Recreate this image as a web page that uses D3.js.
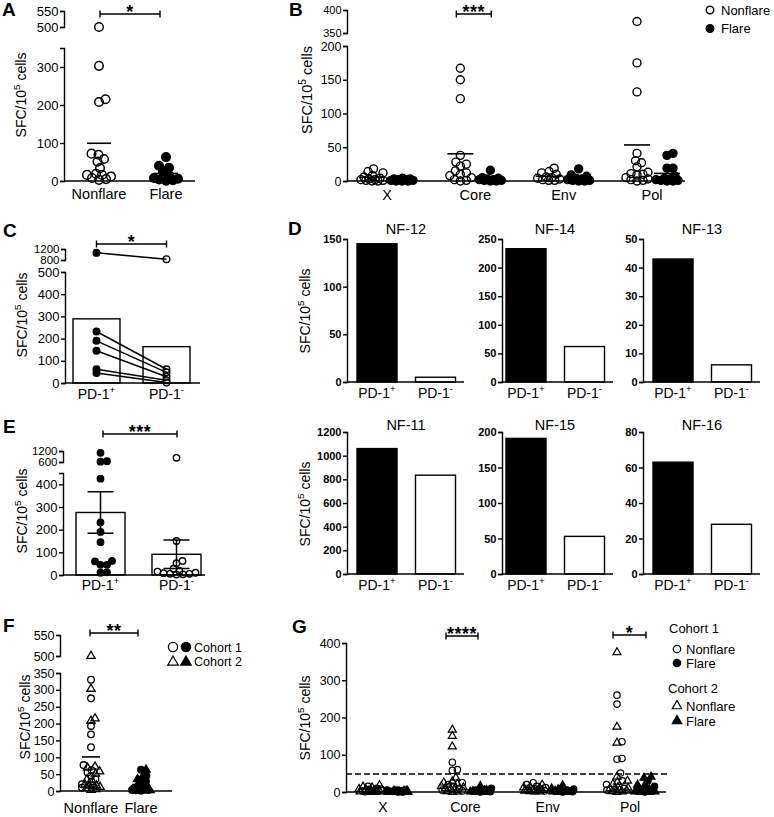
<!DOCTYPE html>
<html><head><meta charset="utf-8">
<script src="https://cdn.jsdelivr.net/npm/d3@7"></script>
<style>body{margin:0;background:#fff}</style>
</head><body>
<script>
// ================= DATA =================
// Panel A – SFC per group
const aCategories = ["Nonflare", "Flare"];
const aNonflare = [500, 303, 215, 208, 72, 69, 58, 51, 34, 19, 16, 16, 12, 8, 5, 3];
const aFlare = [63, 40, 35, 25, 15, 8, 6, 4, 2, 1];
const aTicksLow = [0, 100, 200, 300];
const aTicksHigh = [500, 550];

// Panel B – per antigen (X, Core, Env, Pol)
const bCategories = ["X", "Core", "Env", "Pol"];
const bNonflare = [
  [18, 14, 12, 8, 6, 4, 3, 2, 2, 1, 1, 0, 0],
  [167, 150, 122, 38, 28, 25, 22, 15, 12, 10, 8, 5, 2, 1, 0],
  [19, 14, 12, 10, 6, 5, 4, 3, 2, 1, 1],
  [375, 175, 132, 41, 30, 27, 21, 13, 11, 10, 9, 5, 3, 2, 1, 0]
];
const bFlare = [
  [4, 3, 3, 2, 2, 1, 1, 0, 0, 0],
  [16, 5, 4, 3, 2, 2, 1, 1, 0, 0],
  [18, 9, 7, 4, 3, 2, 1, 1, 0, 0],
  [41, 38, 19, 19, 7, 4, 3, 2, 1, 1, 0, 0]
];
const bTicksLow = [0, 50, 100, 150, 200];
const bTicksHigh = [350, 400];

// Panel C – paired PD-1+ / PD-1-
const pdCategories = ["PD-1+", "PD-1-"];
const cPD1pos = [1060, 232, 190, 145, 62, 45];
const cPD1neg = [830, 62, 48, 28, 12, 2];
const cTicksLow = [0, 100, 200, 300, 400, 500];
const cTicksHigh = [800, 1200];

// Panel D – individual patients
const dPatients = ["NF-12", "NF-14", "NF-13", "NF-11", "NF-15", "NF-16"];
const dPD1pos = [145, 233, 43, 1060, 191, 63];
const dPD1neg = [5, 62, 6, 835, 53, 28];
const dTicks = [
  [0, 50, 100, 150], [0, 50, 100, 150, 200, 250], [0, 10, 20, 30, 40, 50],
  [0, 200, 400, 600, 800, 1000, 1200], [0, 50, 100, 150, 200], [0, 20, 40, 60, 80]
];

// Panel E
const ePD1pos = [1100, 640, 620, 425, 232, 190, 145, 62, 60, 45, 45, 12, 10];
const ePD1neg = [830, 150, 62, 52, 28, 18, 15, 10, 8, 5, 5, 3, 2];
const eTicksLow = [0, 100, 200, 300, 400];
const eTicksHigh = [600, 1200];

// Panel F – two cohorts
const fCategories = ["Nonflare", "Flare"];
const fCohort1Nonflare = [330, 275, 193, 168, 130, 77, 62, 55, 45, 35, 28, 20, 15, 10];
const fCohort2Nonflare = [500, 303, 215, 208, 72, 69, 58, 51, 34, 19, 16, 16, 12, 8, 5, 3];
const fCohort1Flare = [63, 45, 28, 12, 8, 5, 3, 2, 1];
const fCohort2Flare = [63, 40, 35, 25, 15, 8, 6, 4, 2, 1];
const fTicksLow = [0, 50, 100, 150, 200, 250, 300, 350];
const fTicksHigh = [500, 550];

// Panel G – two cohorts per antigen
const gCohort1Nonflare = [
  [15, 10, 8, 5, 3, 2, 1],
  [80, 60, 58, 25, 20, 15, 10, 5, 3],
  [25, 20, 15, 12, 8, 5, 3],
  [260, 236, 135, 90, 88, 51, 30, 20, 10, 5]
];
const gCohort1Flare = [
  [5, 3, 2, 1, 0, 0],
  [10, 5, 3, 2, 1, 0],
  [8, 5, 3, 1, 0],
  [30, 15, 8, 5, 2, 0]
];
const gCohort2Nonflare = bNonflare;
const gCohort2Flare = bFlare;
const gTicks = [0, 100, 200, 300, 400];
const gThreshold = 48;

// ================= HELPERS =================
const FONT = "'Liberation Sans', Arial, Helvetica, sans-serif";
const SW = 1.4;
const svg = d3.select("body").append("svg").attr("width", 774).attr("height", 817)
  .attr("font-family", FONT);
svg.append("rect").attr("width", 774).attr("height", 817).attr("fill", "#fff");

function brokenY(segs) {
  const sc = segs.map(s => d3.scaleLinear().domain(s.domain).range(s.range));
  const f = v => { let k = 0; segs.forEach((s, i) => { if (v >= s.domain[0]) k = i; }); return sc[k](v); };
  f.segs = sc;
  return f;
}
function yAxis(x, y, ticks, fs, fw) {
  y.segs.forEach((sc, i) => {
    const size = Array.isArray(fs) ? fs[i] : fs;
    const g = svg.append("g").attr("transform", `translate(${x},0)`)
      .call(d3.axisLeft(sc).tickValues(ticks[i]).tickFormat(d3.format("d"))
        .tickSize(4).tickSizeOuter(4).tickPadding(1.5));
    g.attr("font-family", FONT).attr("font-size", size).attr("font-weight", fw || "normal");
    g.selectAll("path,line").attr("stroke", "#000").attr("stroke-width", SW);
    g.selectAll("text").attr("fill", "#000");
  });
}
function hLine(x1, x2, y, w) {
  svg.append("line").attr("x1", x1).attr("x2", x2).attr("y1", y).attr("y2", y)
    .attr("stroke", "#000").attr("stroke-width", w || SW);
}
function txt(x, y, s, fs, anchor, fw) {
  return svg.append("text").attr("x", x).attr("y", y).attr("text-anchor", anchor || "middle")
    .attr("font-size", fs).attr("font-weight", fw || "normal").attr("fill", "#000").text(s);
}
function supLabel(x, y, base, sup, fs, rotate, tail) {
  const t = svg.append("text").attr("x", x).attr("y", y).attr("text-anchor", "middle")
    .attr("font-size", fs).attr("fill", "#000");
  if (rotate) t.attr("transform", `rotate(-90,${x},${y})`);
  t.append("tspan").text(base);
  t.append("tspan").text(sup).attr("font-size", fs * 0.7).attr("dy", -fs * 0.42);
  if (tail) t.append("tspan").text(tail).attr("dy", fs * 0.42);
  return t;
}
function yTitle(x, y, fs) { supLabel(x, y, "SFC/10", "5", fs, true, " cells"); }
function letter(s, x, y) { txt(x, y, s, 19, "start", "bold"); }
function sigBar(x1, x2, y, stars) {
  svg.append("path").attr("d", `M${x1},${y - 3.5}V${y + 3.5}M${x1},${y}H${x2}M${x2},${y - 3.5}V${y + 3.5}`)
    .attr("stroke", "#000").attr("stroke-width", SW).attr("fill", "none");
  txt((x1 + x2) / 2, y + 4, stars, 18, "middle", "bold").attr("letter-spacing", 0.5);
}
function meanLine(cx, y, hw) { hLine(cx - hw, cx + hw, y, 1.6); }
function swarm(items, yF, cx, r, maxHalf, overlap) {
  const minD = 2 * r * overlap;
  const pts = items.map(d => Object.assign({}, d, { y: yF(d.v) })).sort((a, b) => b.y - a.y);
  const placed = [];
  pts.forEach(p => {
    let best = cx, bestScore = -1;
    for (let k = 0; k <= maxHalf * 4; k++) {
      const x = cx + (k % 2 ? 1 : -1) * Math.ceil(k / 2) * 0.5;
      let md = Infinity;
      placed.forEach(q => { const d = Math.hypot(q.x - x, q.y - p.y); if (d < md) md = d; });
      if (md >= minD) { best = x; break; }
      if (md > bestScore) { bestScore = md; best = x; }
    }
    p.x = best; placed.push(p);
  });
  return pts;
}
function mark(x, y, r, shape, filled, sw) {
  const fill = filled ? "#000" : "none";
  if (shape === "tri") {
    const side = r * 2.5;
    svg.append("path").attr("d", d3.symbol(d3.symbolTriangle, side * side * 0.433)())
      .attr("transform", `translate(${x},${y})`).attr("fill", fill)
      .attr("stroke", "#000").attr("stroke-width", sw || 1.3);
  } else {
    svg.append("circle").attr("cx", x).attr("cy", y).attr("r", r).attr("fill", fill)
      .attr("stroke", "#000").attr("stroke-width", sw || 1.4);
  }
}

// ================= PANEL A =================
letter("A", 2, 16);
const yA = brokenY([{ domain: [0, 350], range: [181, 48] }, { domain: [500, 550], range: [27, 11] }]);
yAxis(64, yA, [aTicksLow, aTicksHigh], 13);
hLine(64, 195, 181);
const xA = d3.scalePoint().domain(aCategories).range([99, 166]);
[aNonflare, aFlare].forEach((vals, i) => {
  const cx = xA(aCategories[i]);
  swarm(vals.map(v => ({ v })), yA, cx, 4.3, 12, 0.8).forEach(p => mark(p.x, p.y, 4.3, "circle", i === 1, 1.5));
  meanLine(cx, yA(d3.mean(vals)), 12);
  txt(cx, 199, aCategories[i], 14.5);
});
sigBar(100, 160, 14, "*");
yTitle(26, 95, 14);

// ================= PANEL B =================
letter("B", 289, 16);
const yB = brokenY([{ domain: [0, 200], range: [181, 46] }, { domain: [350, 400], range: [33, 10] }]);
yAxis(347, yB, [bTicksLow, bTicksHigh], [12.5, 11]);
hLine(347, 685, 181);
const xB = d3.scalePoint().domain(bCategories).range([387, 652]);
bCategories.forEach((c, i) => {
  const cx = xB(c);
  [[bNonflare[i], false, -15], [bFlare[i], true, 15]].forEach(([vals, filled, off]) => {
    swarm(vals.map(v => ({ v })), yB, cx + off, 4, 11, 0.75).forEach(p => mark(p.x, p.y, 4, "circle", filled));
    meanLine(cx + off, yB(d3.mean(vals)), 13);
  });
  txt(cx, 200, c, 14.5);
});
sigBar(xB("Core") - 19, xB("Core") + 16, 14, "***");
yTitle(312, 90, 14.5);
mark(710, 10, 3.8, "circle", false);
txt(721, 14.5, "Nonflare", 13, "start");
mark(710, 28.5, 3.8, "circle", true);
txt(721, 33, "Flare", 13, "start");

// ================= PANEL C =================
letter("C", 3, 237);
const yC = brokenY([{ domain: [0, 500], range: [383, 272] }, { domain: [800, 1200], range: [260, 249] }]);
const xC = d3.scaleBand().domain(pdCategories).range([73, 190]).paddingInner(0.329).paddingOuter(0);
[cPD1pos, cPD1neg].forEach((vals, i) => {
  const m = d3.mean(vals);
  svg.append("rect").attr("x", xC(pdCategories[i])).attr("width", xC.bandwidth())
    .attr("y", yC(m)).attr("height", yC(0) - yC(m)).attr("fill", "#fff")
    .attr("stroke", "#000").attr("stroke-width", SW);
});
yAxis(65, yC, [cTicksLow, cTicksHigh], [13, 11.5]);
hLine(65, 200, 383);
const cxPos = xC("PD-1+") + xC.bandwidth() / 2, cxNeg = xC("PD-1-") + xC.bandwidth() / 2;
cPD1pos.forEach((v, i) => {
  svg.append("line").attr("x1", cxPos).attr("y1", yC(v)).attr("x2", cxNeg).attr("y2", yC(cPD1neg[i]))
    .attr("stroke", "#000").attr("stroke-width", 1.5);
});
cPD1pos.forEach(v => mark(cxPos, yC(v), 3.3, "circle", true));
cPD1neg.forEach(v => mark(cxNeg, yC(v), 3.3, "circle", false));
supLabel(cxPos, 399, "PD-1", "+", 14);
supLabel(cxNeg, 399, "PD-1", "-", 14);
sigBar(cxPos, cxNeg, 244, "*");
yTitle(27, 315, 14);

// ================= PANEL D =================
letter("D", 288, 235);
const dAxisX = [347, 502, 643], dBarStart = [357, 506, 653];
const dTop = [239, 432], dBottom = [382, 574], dTitleY = [234, 430];
dPatients.forEach((name, k) => {
  const col = k % 3, row = Math.floor(k / 3);
  const y = d3.scaleLinear().domain([0, d3.max(dTicks[k])]).range([dBottom[row], dTop[row]]);
  const x = d3.scaleBand().domain(pdCategories).range([dBarStart[col], dBarStart[col] + 98.5])
    .paddingInner(0.316).paddingOuter(0);
  [dPD1pos[k], dPD1neg[k]].forEach((v, i) => {
    svg.append("rect").attr("x", x(pdCategories[i])).attr("width", x.bandwidth())
      .attr("y", y(v)).attr("height", y(0) - y(v)).attr("fill", i === 0 ? "#000" : "#fff")
      .attr("stroke", "#000").attr("stroke-width", SW);
    supLabel(x(pdCategories[i]) + x.bandwidth() / 2, dBottom[row] + 15.5, "PD-1", i === 0 ? "+" : "-", 14);
  });
  const ys = brokenY([{ domain: y.domain(), range: y.range() }]);
  yAxis(dAxisX[col], ys, [dTicks[k]], 11, "bold");
  hLine(dAxisX[col], dBarStart[col] + 107, dBottom[row]);
  txt(dBarStart[col] + 49, dTitleY[row], name, 14.5);
  if (col === 0) yTitle(310, row === 0 ? 311 : 504, 14);
});

// ================= PANEL E =================
letter("E", 3, 433);
const yE = brokenY([{ domain: [0, 450], range: [575, 473] }, { domain: [600, 1200], range: [462, 451] }]);
const xE = d3.scaleBand().domain(pdCategories).range([76, 201]).paddingInner(0.355).paddingOuter(0);
[ePD1pos, ePD1neg].forEach((vals, i) => {
  const m = d3.mean(vals);
  svg.append("rect").attr("x", xE(pdCategories[i])).attr("width", xE.bandwidth())
    .attr("y", yE(m)).attr("height", yE(0) - yE(m)).attr("fill", "#fff")
    .attr("stroke", "#000").attr("stroke-width", SW);
});
yAxis(63, yE, [eTicksLow, eTicksHigh], [13, 11.5]);
hLine(63, 205, 575);
[ePD1pos, ePD1neg].forEach((vals, i) => {
  const cx = xE(pdCategories[i]) + xE.bandwidth() / 2;
  const m = d3.mean(vals), sem = d3.deviation(vals) / Math.sqrt(vals.length);
  svg.append("path")
    .attr("d", `M${cx},${yE(m - sem)}V${yE(m + sem)}M${cx - 13},${yE(m + sem)}H${cx + 13}M${cx - 13},${yE(m - sem)}H${cx + 13}`)
    .attr("stroke", "#000").attr("stroke-width", 1.5).attr("fill", "none");
  swarm(vals.map(v => ({ v })), yE, cx, 3.2, 21, 0.95).forEach(p => mark(p.x, p.y, 3.2, "circle", i === 0));
  supLabel(cx, 590, "PD-1", i === 0 ? "+" : "-", 14);
});
sigBar(103, 177, 434, "***");
yTitle(27, 511, 14);

// ================= PANEL F =================
letter("F", 3, 632);
const yF = brokenY([{ domain: [0, 350], range: [791, 673] }, { domain: [500, 550], range: [656, 635] }]);
yAxis(60, yF, [fTicksLow, fTicksHigh], 12.5);
hLine(60, 172, 791);
const xF = d3.scalePoint().domain(fCategories).range([91, 141]);
[[fCohort1Nonflare, fCohort2Nonflare, false], [fCohort1Flare, fCohort2Flare, true]].forEach(([c1, c2, filled], i) => {
  const cx = xF(fCategories[i]);
  const items = c1.map(v => ({ v, shape: "circle" })).concat(c2.map(v => ({ v, shape: "tri" })));
  swarm(items, yF, cx, 3.3, 9, 0.7).forEach(p => mark(p.x, p.y, 3.3, p.shape, filled, 1.3));
  meanLine(cx, yF(d3.mean(c1.concat(c2))), 9);
  txt(cx, 813, fCategories[i], 14.5);
});
sigBar(90, 138, 633, "**");
yTitle(30, 717, 14);
mark(173, 647, 4.6, "circle", false, 1.3);
mark(186, 647, 4.6, "circle", true, 1.3);
txt(194, 652, "Cohort 1", 12.5, "start");
mark(173, 662, 4.2, "tri", false, 1.2);
mark(186, 662, 4.2, "tri", true, 1.2);
txt(194, 666, "Cohort 2", 12.5, "start");

// ================= PANEL G =================
letter("G", 292, 633);
const yG = brokenY([{ domain: [0, 400], range: [792, 643] }]);
yAxis(346, yG, [gTicks], 12.5);
const xG = d3.scalePoint().domain(bCategories).range([383, 630]);
svg.append("line").attr("x1", 346).attr("x2", 670).attr("y1", yG(gThreshold)).attr("y2", yG(gThreshold))
  .attr("stroke", "#000").attr("stroke-width", 1.5).attr("stroke-dasharray", "6,3");
bCategories.forEach((c, i) => {
  const cx = xG(c);
  const nf = gCohort1Nonflare[i].map(v => ({ v, shape: "circle" })).concat(gCohort2Nonflare[i].map(v => ({ v, shape: "tri" })));
  const fl = gCohort1Flare[i].map(v => ({ v, shape: "circle" })).concat(gCohort2Flare[i].map(v => ({ v, shape: "tri" })));
  swarm(nf, yG, cx - 13, 3.2, 11, 0.75).forEach(p => mark(p.x, p.y, 3.2, p.shape, false, 1.2));
  swarm(fl, yG, cx + 15, 3.2, 11, 0.75).forEach(p => mark(p.x, p.y, 3.2, p.shape, true, 1.2));
  txt(cx, 812, c, 14);
});
hLine(346, 666, 792);
sigBar(446, 478, 636, "****");
sigBar(613, 646, 635, "*");
yTitle(310, 718, 14);
txt(669, 633, "Cohort 1", 13, "start");
mark(677, 649, 3.7, "circle", false, 1.2);
txt(686, 653.5, "Nonflare", 13, "start");
mark(677, 663, 3.7, "circle", true, 1.2);
txt(686, 667.5, "Flare", 13, "start");
txt(668, 693, "Cohort 2", 13, "start");
mark(677, 706, 3.8, "tri", false, 1.2);
txt(686, 711, "Nonflare", 13, "start");
mark(677, 721, 3.8, "tri", true, 1.2);
txt(686, 726, "Flare", 13, "start");
</script>
</body></html>
